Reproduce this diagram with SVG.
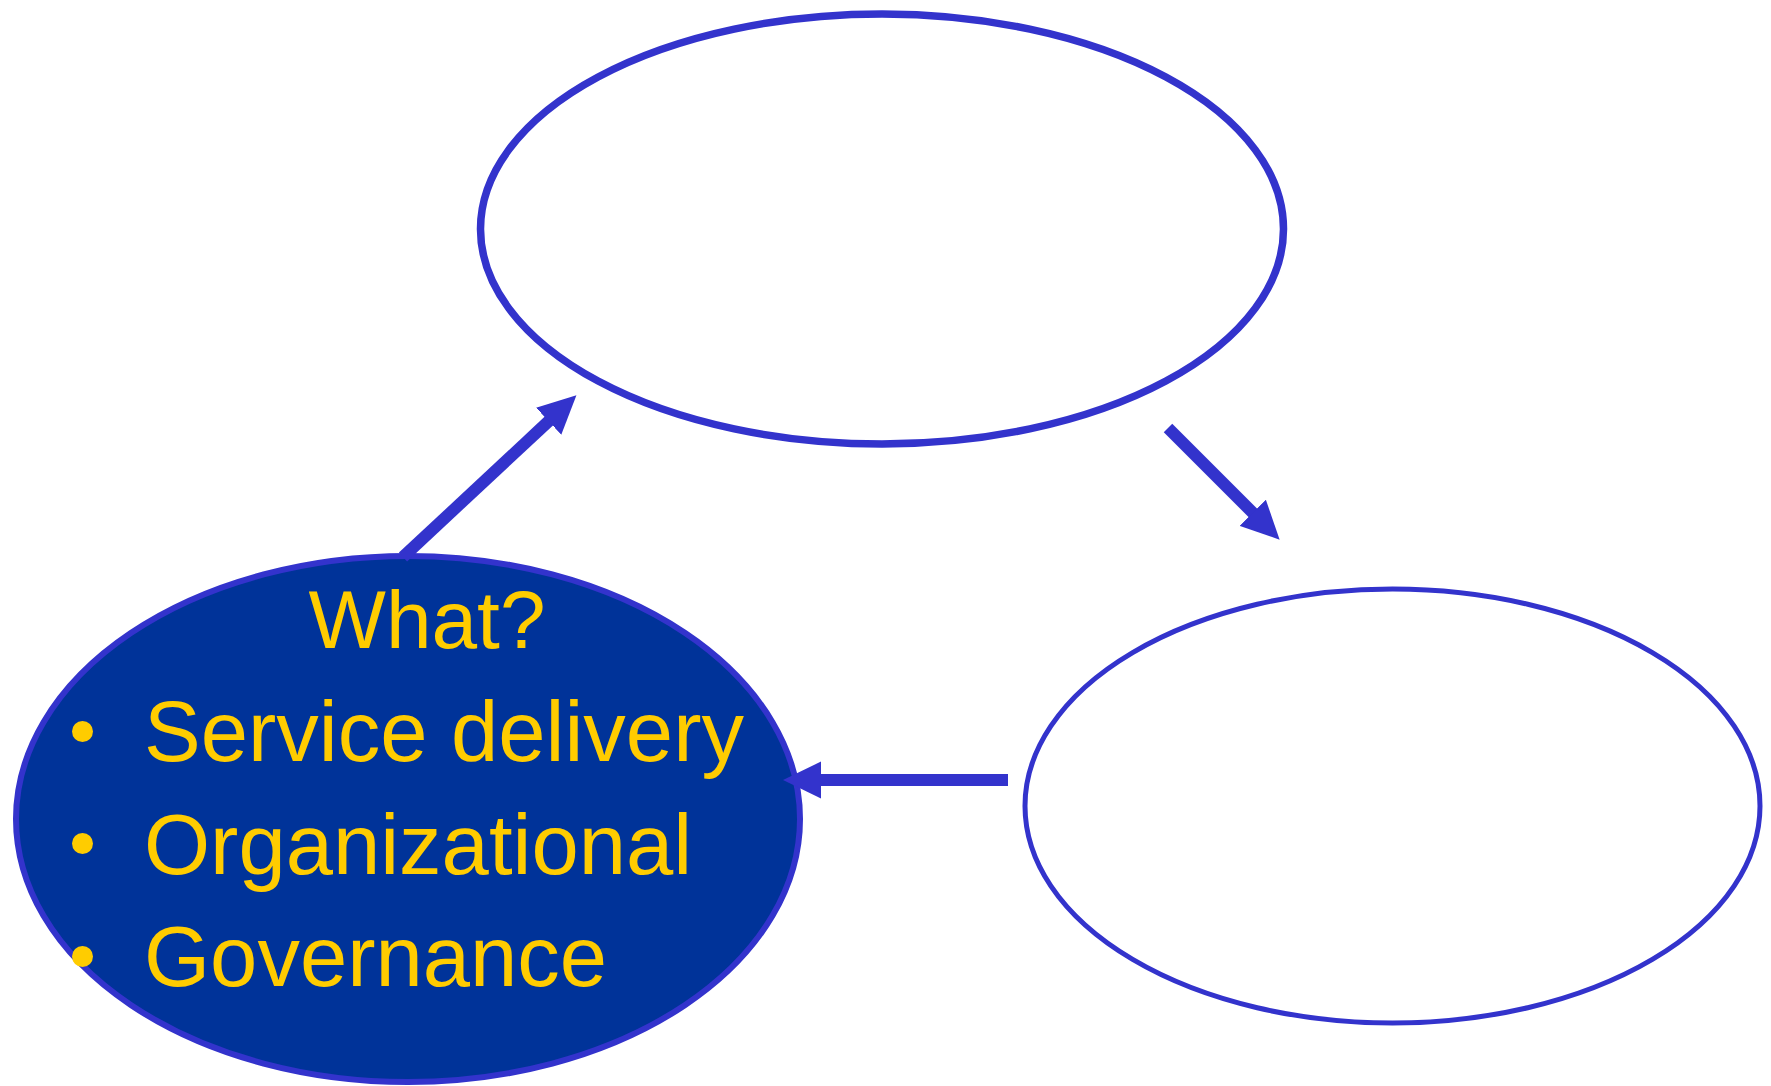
<svg xmlns="http://www.w3.org/2000/svg" width="1771" height="1086" viewBox="0 0 1771 1086">
<style>
.node{fill:#FFFFFF;stroke:#3333CC;stroke-width:6}
.filled{fill:#003399;stroke:#3333CC;stroke-width:6}
.conn{stroke:#3333CC;stroke-width:12;fill:none;stroke-linecap:butt}
.lbl{font-family:"Liberation Sans",Arial,sans-serif;font-size:85px;fill:#FFCC00}
.bul{fill:#FFCC00}
</style>
<defs>
<marker id="ah" markerUnits="userSpaceOnUse" markerWidth="38" markerHeight="38" viewBox="0 0 37 36" refX="1" refY="18" orient="auto">
<path d="M0,0 L37,18 L0,36 Z" fill="#3333CC"/>
</marker>
</defs>
<rect width="1771" height="1086" fill="#FFFFFF"/>
<g id="node-top">
<ellipse class="node" cx="882" cy="229" rx="401.5" ry="215" style="stroke-width:7.5"/>
</g>
<g id="node-right">
<ellipse class="node" cx="1392.5" cy="806" rx="367.5" ry="217" style="stroke-width:5"/>
</g>
<g id="node-what">
<ellipse class="filled" cx="408" cy="819" rx="392" ry="263"/>
<text class="lbl" x="427" y="648" text-anchor="middle" style="font-size:82px">What?</text>
<circle class="bul" cx="82.5" cy="731.5" r="10.5"/>
<text class="lbl" x="144" y="761">Service delivery</text>
<circle class="bul" cx="82.5" cy="843.5" r="10.5"/>
<text class="lbl" x="144" y="874">Organizational</text>
<circle class="bul" cx="82.5" cy="956.5" r="10.5"/>
<text class="lbl" x="144" y="986">Governance</text>
</g>
<g id="connectors">
<line class="conn" x1="403" y1="557" x2="549.4" y2="420.5" marker-end="url(#ah)"/>
<line class="conn" x1="1168" y1="428" x2="1253.5" y2="513.5" marker-end="url(#ah)"/>
<line class="conn" x1="1008" y1="780" x2="820" y2="780" marker-end="url(#ah)"/>
</g>
</svg>
